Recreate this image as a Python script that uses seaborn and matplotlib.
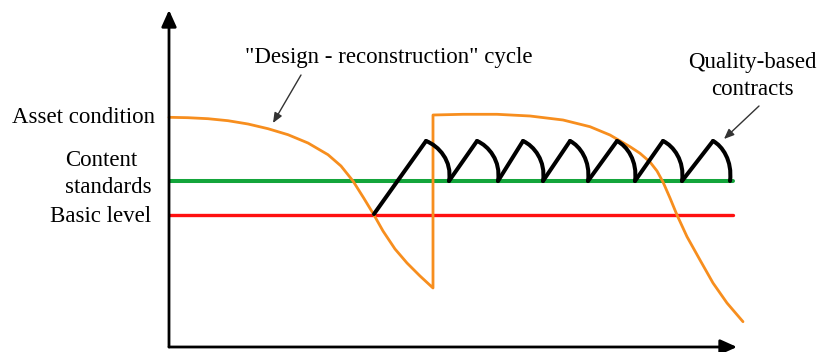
import matplotlib
matplotlib.use("Agg")
import matplotlib.pyplot as plt
import numpy as np
import pandas as pd
import seaborn as sns
from matplotlib.path import Path
from matplotlib.patches import PathPatch

# ---- data (chart units: time along x, condition along y) ----
asset_t = [0, 19, 39, 59, 79, 99, 119, 139, 159, 172, 184, 195, 205, 214, 226, 238, 251, 264,
           264, 294, 328, 361, 394, 421, 441, 461, 471, 481, 488, 494, 501, 508, 518, 531, 544, 558, 574]
asset_c = [229.7, 229.3, 228.3, 226.3, 223, 218.3, 212.3, 204, 192.3, 181, 166, 148.5, 132, 116, 98, 84, 71, 59,
           232, 232.7, 232.7, 231, 227, 220.3, 212, 200.3, 193.7, 185, 176, 165, 149, 132, 110.3, 87, 64, 44, 25.3]

standard_level = 166
basic_level = 132
level_t = [0, 564]

qbc_start = (205, 133)
peak_t = [257, 308, 354, 401, 448, 494, 544]
peak_c = 206
trough_t = [280, 329, 374, 419, 466, 513, 561]
trough_c = 166

left_labels = ["Asset condition", "Content", "standards", "Basic level"]
left_label_x = [-157, -104, -104, -119]
left_label_y = [223.7, 181, 154.3, 125.3]

cycle_label = "\"Design - reconstruction\" cycle"
qbc_label = ["Quality-based", "contracts"]

ORANGE = "#F78E1E"
GREEN = "#13A53B"
RED = "#FF1010"

sns.set_style("white")
plt.rcParams["font.family"] = ["Liberation Serif", "DejaVu Serif"]

fig = plt.figure(figsize=(8.28, 3.52), dpi=100)
ax = fig.add_axes([169 / 828, 5 / 352, (737 - 169) / 828, (347 - 10) / 352])
ax.set_xlim(0, 568)
ax.set_ylim(0, 337)
ax.set_axis_off()

# levels
sns.lineplot(x=level_t, y=[standard_level] * 2, color=GREEN, lw=2.9, ax=ax, zorder=2)
sns.lineplot(x=level_t, y=[basic_level] * 2, color=RED, lw=2.4, ax=ax, zorder=2)

# asset condition
df_asset = pd.DataFrame({"t": asset_t, "c": asset_c})
sns.lineplot(data=df_asset, x="t", y="c", sort=False, estimator=None,
             color=ORANGE, lw=2.0, ax=ax, zorder=3, clip_on=False,
             solid_joinstyle="round")

# quality-based contracts: rising strokes
seg, ts, cs = [], [], []
starts = [qbc_start] + [(t, trough_c) for t in trough_t[:-1]]
for i, (st, pt) in enumerate(zip(starts, peak_t)):
    seg += [i, i]
    ts += [st[0], pt]
    cs += [st[1], peak_c]
df_rise = pd.DataFrame({"seg": seg, "t": ts, "c": cs})
sns.lineplot(data=df_rise, x="t", y="c", units="seg", estimator=None, sort=False,
             color="black", lw=2.9, ax=ax, zorder=4, solid_capstyle="round")

# quality-based contracts: decay arcs
for pt, tt in zip(peak_t, trough_t):
    w = tt - pt
    h = peak_c - trough_c
    verts = [(pt, peak_c), (pt + 0.55 * w, peak_c - 0.12 * h),
             (tt + 0.15 * w, trough_c + 0.5 * h), (tt, trough_c)]
    codes = [Path.MOVETO, Path.CURVE4, Path.CURVE4, Path.CURVE4]
    ax.add_patch(PathPatch(Path(verts, codes), facecolor="none", edgecolor="black",
                           lw=2.9, zorder=4, capstyle="round"))

# axes with arrows
arrow_kw = dict(arrowstyle="-|>,head_length=1.0,head_width=0.45", color="black",
                lw=2.0, shrinkA=0, shrinkB=0, mutation_scale=10)
ax.annotate("", xy=(0, 337), xytext=(0, 0), arrowprops=arrow_kw, annotation_clip=False)
ax.annotate("", xy=(568, 0), xytext=(0, 0), arrowprops=arrow_kw, annotation_clip=False)

# labels
FS = 16.5
for txt, x, y in zip(left_labels, left_label_x, left_label_y):
    ax.text(x, y, txt, fontsize=FS, ha="left", va="baseline", color="black")

ax.text(76, 284, cycle_label, fontsize=FS, ha="left", va="baseline", color="black")
ax.text(583, 278.7, qbc_label[0], fontsize=FS, ha="center", va="baseline", color="black")
ax.text(583, 252, qbc_label[1], fontsize=FS, ha="center", va="baseline", color="black")

pointer = dict(arrowstyle="-|>,head_length=0.6,head_width=0.25", color="#333333",
               lw=1.0, shrinkA=0, shrinkB=0, mutation_scale=10)
ax.annotate("", xy=(104, 224), xytext=(132, 272), arrowprops=pointer, annotation_clip=False)
ax.annotate("", xy=(555, 208), xytext=(590, 241), arrowprops=pointer, annotation_clip=False)

fig.savefig("out.png", dpi=100)
